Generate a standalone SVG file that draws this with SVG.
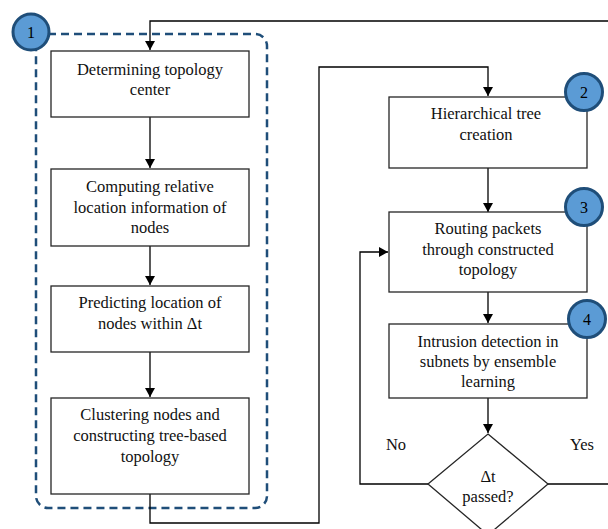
<svg xmlns="http://www.w3.org/2000/svg" width="608" height="529" viewBox="0 0 608 529">
<defs>
<marker id="ah" markerWidth="10" markerHeight="10" refX="9" refY="5" orient="auto" markerUnits="userSpaceOnUse">
<path d="M0,0 L9,5 L0,10 Z" fill="#000"/>
</marker>
<style>
.box{fill:#fff;stroke:#262626;stroke-width:1.3}
text{font-family:Liberation Serif, Times New Roman, Times, DejaVu Serif, serif}
.t{font-size:16.5px;fill:#111;text-anchor:middle}
.c{fill:#5B9BD5;stroke:#1F4E79;stroke-width:3}
.n{font-size:16px;fill:#000;text-anchor:middle}
.ln{fill:none;stroke:#000;stroke-width:1.3}
</style>
</defs>
<rect x="36" y="34" width="231" height="474" rx="12" ry="12" fill="none" stroke="#1F4E79" stroke-width="2.5" stroke-dasharray="8,5"/>
<g id="connectors">
<path class="ln" d="M608,21 H150 V50" marker-end="url(#ah)"/>
<path class="ln" d="M150,117 V168" marker-end="url(#ah)"/>
<path class="ln" d="M150,246 V285" marker-end="url(#ah)"/>
<path class="ln" d="M150,352 V397" marker-end="url(#ah)"/>
<path class="ln" d="M150,494 V523 H319 V67 H488 V96" marker-end="url(#ah)"/>
<path class="ln" d="M488,168 V212" marker-end="url(#ah)"/>
<path class="ln" d="M488,292 V323" marker-end="url(#ah)"/>
<path class="ln" d="M488,398 V433" marker-end="url(#ah)"/>
<path class="ln" d="M428,484 H360 V252 H388" marker-end="url(#ah)"/>
<path class="ln" d="M548,484 H608"/>
</g>
<g id="n1">
<rect class="box" x="51" y="51" width="198" height="66"/>
<text class="t" x="150" y="75" font-family="Liberation Serif">Determining topology</text>
<text class="t" x="150" y="95">center</text>
</g>
<g id="n2">
<rect class="box" x="51" y="169" width="198" height="77"/>
<text class="t" x="150" y="192">Computing relative</text>
<text class="t" x="150" y="213">location information of</text>
<text class="t" x="150" y="233">nodes</text>
</g>
<g id="n3">
<rect class="box" x="51" y="286" width="198" height="66"/>
<text class="t" x="150" y="308">Predicting location of</text>
<text class="t" x="150" y="329">nodes within Δt</text>
</g>
<g id="n4">
<rect class="box" x="51" y="398" width="198" height="96"/>
<text class="t" x="150" y="420">Clustering nodes and</text>
<text class="t" x="150" y="441">constructing tree-based</text>
<text class="t" x="150" y="462">topology</text>
</g>
<g id="n5">
<rect class="box" x="389" y="97" width="198" height="71"/>
<text class="t" x="486" y="119">Hierarchical tree</text>
<text class="t" x="486" y="140">creation</text>
</g>
<g id="n6">
<rect class="box" x="389" y="212" width="198" height="80"/>
<text class="t" x="488" y="234">Routing packets</text>
<text class="t" x="488" y="255">through constructed</text>
<text class="t" x="488" y="275">topology</text>
</g>
<g id="n7">
<rect class="box" x="389" y="324" width="198" height="74"/>
<text class="t" x="488" y="347">Intrusion detection in</text>
<text class="t" x="488" y="367">subnets by ensemble</text>
<text class="t" x="488" y="387">learning</text>
</g>
<g id="d1">
<path class="box" d="M488,434 L548,484 L488,535 L428,484 Z" stroke="#000"/>
<text class="t" x="488" y="482">Δt</text>
<text class="t" x="488" y="502">passed?</text>
</g>
<text class="t" x="396" y="450">No</text>
<text class="t" x="582" y="450">Yes</text>
<g id="c1"><circle class="c" cx="31" cy="32" r="18"/><text class="n" x="31" y="38">1</text></g>
<g id="c2"><circle class="c" cx="584" cy="92" r="18.5"/><text class="n" x="584" y="98">2</text></g>
<g id="c3"><circle class="c" cx="584" cy="207" r="18.5"/><text class="n" x="584" y="213">3</text></g>
<g id="c4"><circle class="c" cx="587" cy="319" r="18.5"/><text class="n" x="587" y="325">4</text></g>
</svg>
